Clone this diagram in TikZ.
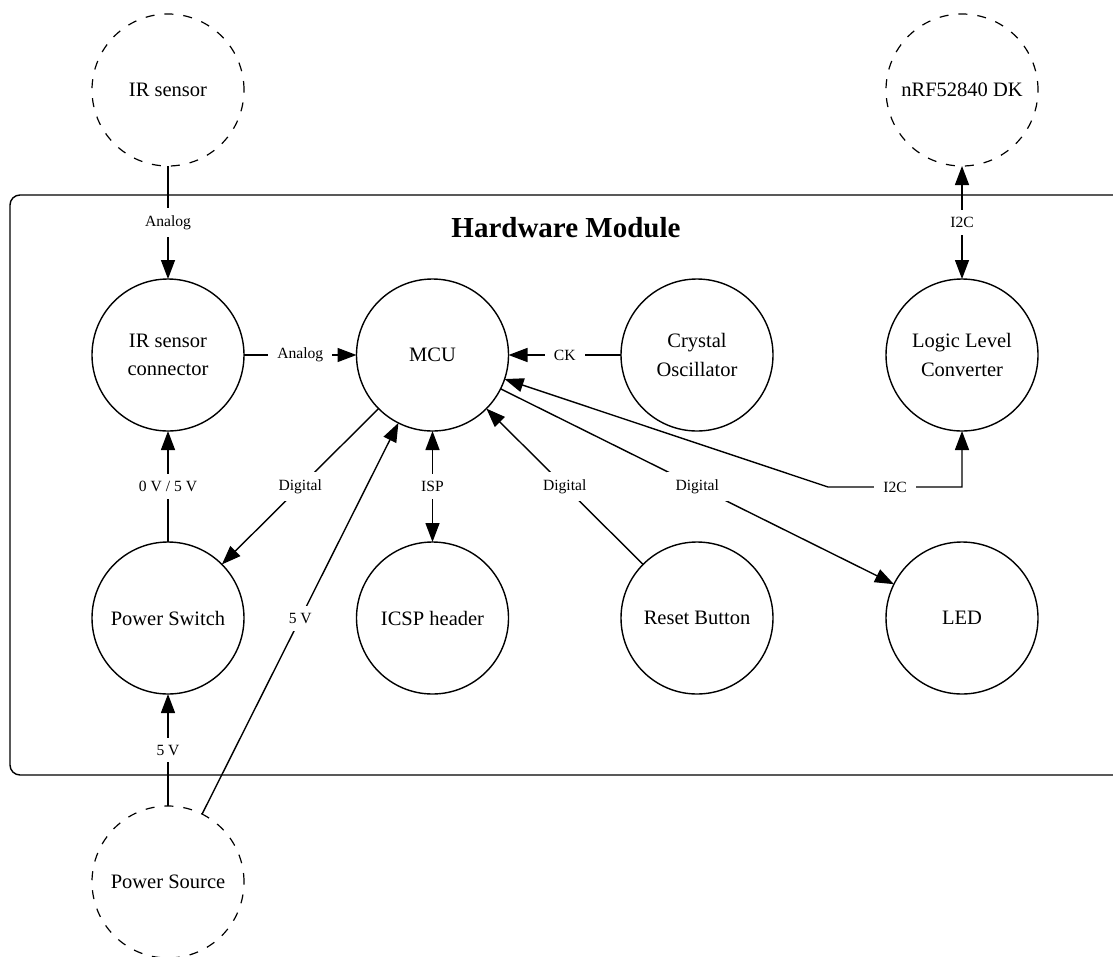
\documentclass[tikz,border=0pt]{standalone}
\usepackage{fontspec}
\setmainfont{Liberation Serif}
\usetikzlibrary{arrows.meta}
\begin{document}
\begin{tikzpicture}[x=1pt,y=-1pt,
  line width=1.4pt,
  unit/.style={circle, draw, minimum size=152pt, inner sep=0pt, outer sep=0pt,
    align=center, font=\fontsize{20.5}{28.5}\selectfont},
  ext/.style={unit, line width=1.2pt, dash pattern=on 9pt off 10pt},
  lbl/.style={fill=white, inner xsep=9pt, inner ysep=7pt, font=\fontsize{15.6}{18}\selectfont},
  tip/.style={-{Triangle[length=19pt,width=14pt]}},
  both/.style={{Triangle[length=19pt,width=14pt]}-{Triangle[length=19pt,width=14pt]}},
  title/.style={font=\bfseries\fontsize{29}{34}\selectfont}
]
\useasboundingbox (0,0) rectangle (1113,956);

% module outline and its heading
\draw[rounded corners=10pt] (10,195) rectangle (1124,775);
\node[title] (heading) at (566,228) {Hardware Module};

% external parts
\node[ext] (irs)  at (168,90)   {IR sensor};
\node[ext] (nrf)  at (962,90)   {nRF52840 DK};
\node[ext] (psrc) at (168,882)  {Power Source};

% parts on the module
\node[unit] (irc)  at (168,355)   {IR sensor\\connector};
\node[unit] (mcu)  at (432.5,355) {MCU};
\node[unit] (xtal) at (697,355)   {Crystal\\Oscillator};
\node[unit] (llc)  at (962,355)   {Logic Level\\Converter};
\node[unit] (psw)  at (168,618)   {Power Switch};
\node[unit] (icsp) at (432.5,618) {ICSP header};
\node[unit] (rst)  at (697,618)   {Reset Button};
\node[unit] (led)  at (962,618)   {LED};

\coordinate (i2cbend) at (828,487);

% signals
\draw[tip]  (irs)  -- node[lbl] {Analog} (irc);
\draw[tip]  (irc)  -- node[lbl] {Analog} (mcu);
\draw[tip]  (xtal) -- node[lbl] {CK} (mcu);
\draw[both] (llc)  -- node[lbl] {I2C} (nrf);
\draw[tip]  (psw)  -- node[lbl] {0 V / 5 V} (irc);
\draw[tip]  (mcu)  -- node[lbl] {Digital} (psw);
\draw[tip]  (psrc) -- node[lbl] {5 V} (mcu);
\draw[both] (mcu)  -- node[lbl] {ISP} (icsp);
\draw[tip]  (rst)  -- node[lbl] {Digital} (mcu);
\draw[tip]  (mcu)  -- node[lbl] {Digital} (led);
\draw[tip]  (psrc) -- node[lbl] {5 V} (psw);
\draw[both] (mcu) -- (i2cbend) -| node[lbl, pos=0.25] {I2C} (llc);
\end{tikzpicture}
\end{document}
